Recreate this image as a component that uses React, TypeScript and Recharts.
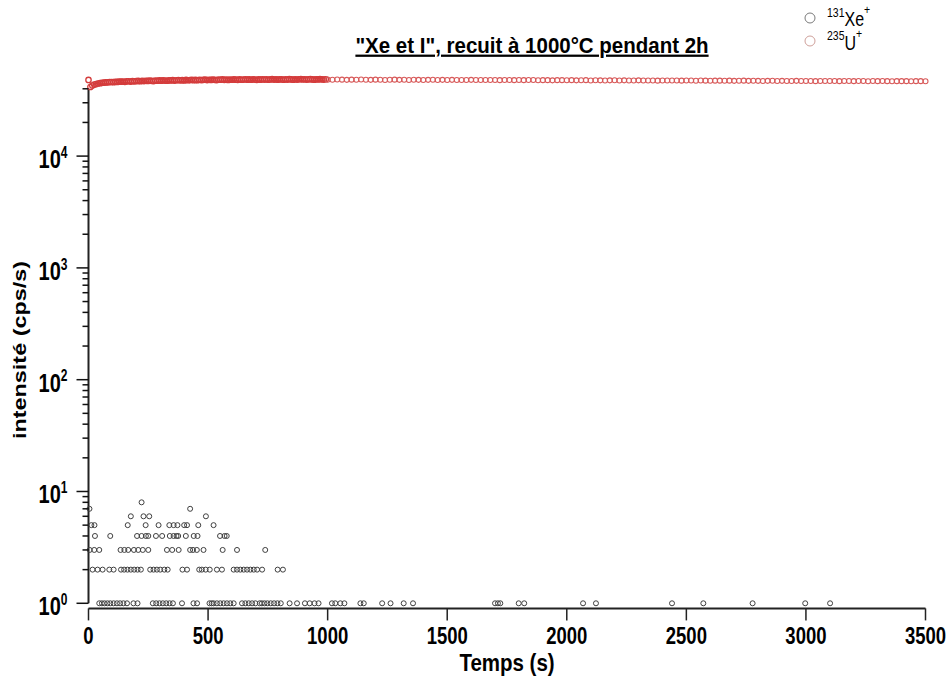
import React from 'react';
import { ScatterChart, Scatter, XAxis, YAxis, ReferenceLine } from 'recharts';

const FONT = '"Liberation Sans", Arial, sans-serif';
const STRETCH = 1.3; // text in the source picture is drawn tall and narrow

const X_TICKS = [0, 500, 1000, 1500, 2000, 2500, 3000, 3500];
const Y_TICKS = [
  1, 2, 3, 4, 5, 6, 7, 8, 9,
  10, 20, 30, 40, 50, 60, 70, 80, 90,
  100, 200, 300, 400, 500, 600, 700, 800, 900,
  1000, 2000, 3000, 4000, 5000, 6000, 7000, 8000, 9000,
  10000, 20000, 30000, 40000,
];
const Y_MAJOR = [1, 10, 100, 1000, 10000];

// 131Xe+ : times (s) of the points at each count level (cps/s)
const XE_1 = [45, 56, 67, 79, 91, 105, 119, 132, 146, 161, 188, 205, 269, 283, 297, 311, 325, 339, 353, 391, 439, 454,
  506, 515, 523, 537, 551, 565, 579, 593, 607, 642, 656, 670, 684, 698, 716, 725, 736, 748, 762, 776, 790, 804,
  841, 872, 905, 925, 945, 962, 1018, 1032, 1053, 1070, 1137, 1151, 1228, 1263, 1318, 1357,
  1700, 1712, 1722, 1799, 1822, 2068, 2122, 2440, 2571, 2777, 2997, 3101];
const XE_2 = [17, 38, 59, 87, 105, 136, 149, 163, 177, 191, 205, 219, 258, 272, 286, 300, 317, 331, 393, 412,
  463, 474, 490, 507, 537, 558, 607, 621, 635, 649, 663, 677, 691, 705, 726, 791, 813];
const XE_3 = [5, 24, 45, 134, 150, 166, 190, 208, 227, 250, 328, 350, 377, 425, 437, 453, 481, 561, 621, 739];
const XE_4 = [27, 91, 203, 222, 240, 250, 282, 308, 340, 356, 368, 375, 407, 440, 456, 550, 569, 578];
const XE_5 = [12, 25, 164, 239, 293, 338, 356, 372, 400, 412, 459, 523];
const XE_6 = [177, 230, 254, 491];
const XE_7 = [4, 425];
const XE_8 = [222];

// 235U+ : dense acquisition up to 1000 s, then sparser
const U_DENSE_STEP = 8;
const U_DENSE = [
  48000, 41500, 42800, 43600, 44100, 44600, 44900, 45200, 45400, 45600,
  45700, 45900, 46000, 45800, 46200, 46100, 46400, 46300, 46500, 46200,
  46600, 46700, 46400, 46800, 46600, 46900, 47000, 46700, 47100, 46900,
  47200, 47000, 47300, 47100, 46900, 47400, 47200, 47500, 47300, 47600,
  47400, 47200, 47600, 47500, 47800, 47400, 47700, 47900, 47600, 47800,
  47500, 48000, 47700, 47900, 48100, 47800, 48000, 47700, 48200, 47900,
  48100, 48300, 47900, 48200, 48000, 48400, 48100, 47900, 48300, 48200,
  48500, 48100, 48300, 48000, 48400, 48200, 48600, 48300, 48100, 48500,
  48200, 48400, 48700, 48300, 48500, 48200, 48600, 48400, 48100, 48500,
  48300, 48700, 48400, 48600, 48200, 48500, 48800, 48400, 48600, 48300,
  48700, 48500, 48200, 48600, 48400, 48800, 48500, 48300, 48700, 48400,
  48600, 48900, 48500, 48700, 48400, 48600, 48800, 48500, 48300, 48700,
  48500, 48800, 48600, 48400, 48700,
];
const U_SPARSE_START = 1000;
const U_SPARSE_STEP = 20;
const U_SPARSE = [
  48300, 48200, 48400, 48300, 48100, 48300, 48200, 48400, 48200, 48100,
  48300, 48200, 48000, 48200, 48300, 48100, 48200, 48000, 48200, 48100,
  48000, 48100, 48200, 48000, 48100, 47900, 48100, 48000, 47900, 48000,
  48100, 47900, 48000, 47900, 48000, 47900, 47800, 47900, 48000, 47800,
  47900, 47800, 47900, 47900, 47700, 47800, 47800, 47600, 47800, 47800,
  47700, 47800, 47600, 47700, 47800, 47500, 47700, 47600, 47500, 47600,
  47700, 47500, 47600, 47500, 47500, 47600, 47400, 47500, 47500, 47300,
  47400, 47500, 47400, 47400, 47300, 47400, 47400, 47200, 47400, 47300,
  47200, 47300, 47300, 47200, 47300, 47100, 47200, 47300, 47100, 47200,
  47100, 47000, 47100, 47200, 47000, 47100, 47000, 47000, 47100, 46900,
  47000, 47000, 46800, 46900, 47000, 46900, 46900, 46800, 46900, 46900,
  46800, 46900, 46900, 46700, 46900, 46800, 46900, 46800, 46700, 46800,
  46800, 46800, 46700, 46800, 46800, 46700,
];

const XE_LEVELS: [number, number[]][] = [
  [1, XE_1], [2, XE_2], [3, XE_3], [4, XE_4], [5, XE_5], [6, XE_6], [7, XE_7], [8, XE_8],
];
const xeData = XE_LEVELS.flatMap(([v, times]) => times.map(t => ({ t, v })));
const uDenseData = U_DENSE.map((v, i) => ({ t: i * U_DENSE_STEP, v }));
const uSparseData = U_SPARSE.map((v, i) => ({ t: U_SPARSE_START + i * U_SPARSE_STEP, v }));

const XE_COLOR = '#404040';
const U_COLOR = '#d43c3c';

function XTick({ x, y, payload }: any) {
  return (
    <g transform={`translate(${x},${y}) scale(1,${STRETCH})`}>
      <text y={16.6} textAnchor="middle" fontFamily={FONT} fontWeight="bold" fontSize={18.5} fill="#000">
        {payload.value}
      </text>
    </g>
  );
}

function YTick({ x, y, payload }: any) {
  const major = Y_MAJOR.includes(payload.value);
  const exp = Math.round(Math.log10(payload.value));
  return (
    <g>
      <line x1={x - (major ? 12 : 6)} x2={x} y1={y} y2={y} stroke="#111" strokeWidth={1.5} />
      {major && (
        <g transform={`translate(${x - 21},${y + 12}) scale(1,${STRETCH})`}>
          <text textAnchor="end" fontFamily={FONT} fontWeight="bold" fontSize={20} fill="#000">
            <tspan>10</tspan>
            <tspan fontSize={12} dy={-8}>{exp}</tspan>
          </text>
        </g>
      )}
    </g>
  );
}

const circleShape = (color: string, r: number, sw: number) => (p: any) =>
  <circle cx={p.cx} cy={p.cy} r={r} fill="none" stroke={color} strokeWidth={sw} />;

export default function App() {
  return (
    <div style={{ position: 'absolute', left: 0, top: 0, width: 949, height: 682, background: '#fff' }}>
      <ScatterChart width={949} height={682} margin={{ top: 44.3, right: 23.5, bottom: 0, left: 0 }}>
        <XAxis
          dataKey="t"
          type="number"
          domain={[0, 3500]}
          ticks={X_TICKS}
          interval={0}
          height={73.6}
          tickSize={12}
          axisLine={{ stroke: '#222', strokeWidth: 2 }}
          tickLine={{ stroke: '#222', strokeWidth: 1.5 }}
          tick={<XTick />}
        />
        <YAxis
          dataKey="v"
          type="number"
          scale="log"
          domain={[0.9, 100000]}
          allowDataOverflow
          ticks={Y_TICKS}
          interval={0}
          width={88.5}
          axisLine={false}
          tickLine={false}
          tickSize={0}
          tickMargin={0}
          tick={<YTick />}
        />
        <ReferenceLine segment={[{ x: 0, y: 1 }, { x: 0, y: 40000 }]} stroke="#222" strokeWidth={2} ifOverflow="visible" />
        <Scatter data={xeData} isAnimationActive={false} shape={circleShape(XE_COLOR, 2.5, 1)} />
        <Scatter data={uDenseData} isAnimationActive={false} shape={circleShape(U_COLOR, 2.7, 1.3)} />
        <Scatter data={uSparseData} isAnimationActive={false} shape={circleShape('#d85a5a', 2.5, 1.1)} />
      </ScatterChart>

      <svg width={949} height={682} style={{ position: 'absolute', left: 0, top: 0, pointerEvents: 'none' }}>
        <g transform="translate(0,52.5) scale(1,1.1)">
          <text x={532} textAnchor="middle" fontFamily={FONT} fontWeight="bold" fontSize={20.5} fill="#000" textDecoration="underline">
            "Xe et I", recuit à 1000°C pendant 2h
          </text>
        </g>

        <circle cx={810} cy={18} r={5} fill="none" stroke="#7a7a7a" strokeWidth={1} />
        <g transform={`translate(0,26) scale(1,${STRETCH})`}>
          <text x={827} fontFamily={FONT} fontSize={16} fill="#000">
            <tspan fontSize={10.5} dy={-7}>131</tspan>
            <tspan dy={7}>Xe</tspan>
            <tspan fontSize={10.5} dy={-9}>+</tspan>
          </text>
        </g>
        <circle cx={810} cy={41} r={5} fill="none" stroke="#cfa09a" strokeWidth={1} />
        <g transform={`translate(0,49.5) scale(1,${STRETCH})`}>
          <text x={827} fontFamily={FONT} fontSize={16} fill="#000">
            <tspan fontSize={10.5} dy={-7}>235</tspan>
            <tspan dy={7}>U</tspan>
            <tspan fontSize={10.5} dy={-9}>+</tspan>
          </text>
        </g>

        <g transform="translate(507,671) scale(1,1.15)">
          <text textAnchor="middle" fontFamily={FONT} fontWeight="bold" fontSize={20.5} fill="#000">Temps (s)</text>
        </g>
        <g transform={`translate(26,350) rotate(-90) scale(${STRETCH},1)`}>
          <text textAnchor="middle" fontFamily={FONT} fontWeight="bold" fontSize={18} fill="#000">intensité (cps/s)</text>
        </g>
      </svg>
    </div>
  );
}
